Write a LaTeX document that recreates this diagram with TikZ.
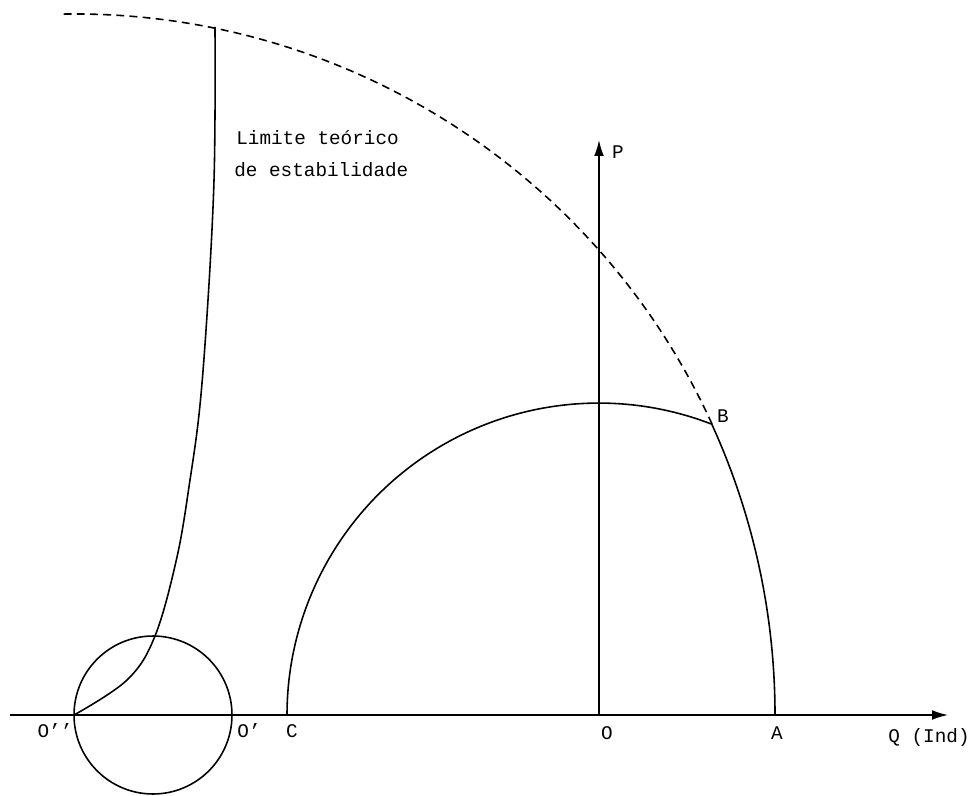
\documentclass[tikz,border=0pt]{standalone}
\usepackage{fontspec}
\setmainfont{Liberation Mono}
\usetikzlibrary{arrows.meta}
\begin{document}
\begin{tikzpicture}[x=0.02cm,y=0.02cm,
  curve/.style={line width=0.9pt,black},
  dashcurve/.style={line width=0.9pt,black,dash pattern=on 4.5pt off 3pt},
  axis/.style={line width=0.9pt,black,-{Latex[length=9pt,width=5.5pt]}},
  lbl/.style={font=\fontsize{11}{13}\selectfont,inner sep=0pt}]
\useasboundingbox (0,0) rectangle (972,795);
% key points
\coordinate (O) at (599,80);
\coordinate (A) at (775,80);
\coordinate (C) at (287,80);
\coordinate (Op) at (232,80);
\coordinate (Opp) at (74,80);
\coordinate (B) at (712,371);
\coordinate (Cc) at (153,80);
\coordinate (qstart) at (10,80);
\coordinate (qend) at (948,80);
\coordinate (ptip) at (599,655);
% axes
\draw[axis] (qstart) -- (qend);
\draw[axis] (O) -- (ptip);
% small circle
\draw[curve] (Cc) circle[radius=1.58cm];
% arc C -> B centred at O
\draw[curve] (C) arc[start angle=180,end angle=68.8,radius=6.24cm];
% arc A -> B centred at O''
\draw[curve] (A) arc[start angle=0,end angle=24.52,radius=14.02cm];
% dashed arc B -> top
\draw[dashcurve] (B) arc[start angle=24.52,end angle=91,radius=14.02cm];
% stability limit curve
\draw[curve] plot[smooth,tension=0.6] coordinates {(74,80) (127,115) (155,159) (177,238) (190,315) (200,390) (208,495) (213.5,600) (215,680) (215,768)};
% labels
\node[lbl,anchor=west] (t1) at (236,657) {Limite teórico};
\node[lbl,anchor=west] (t2) at (234,625) {de estabilidade};
\node[lbl] (lP) at (618,643) {P};
\node[lbl] (lB) at (723,379) {B};
\node[lbl] (lO) at (607,62) {O};
\node[lbl] (lA) at (777,62) {A};
\node[lbl] (lC) at (292,64) {C};
\node[lbl] (lOp) at (249,64) {O'};
\node[lbl] (lOpp) at (55,64) {O{'}{'}};
\node[lbl] (lQ) at (929,58) {Q (Ind)};
\end{tikzpicture}
\end{document}
